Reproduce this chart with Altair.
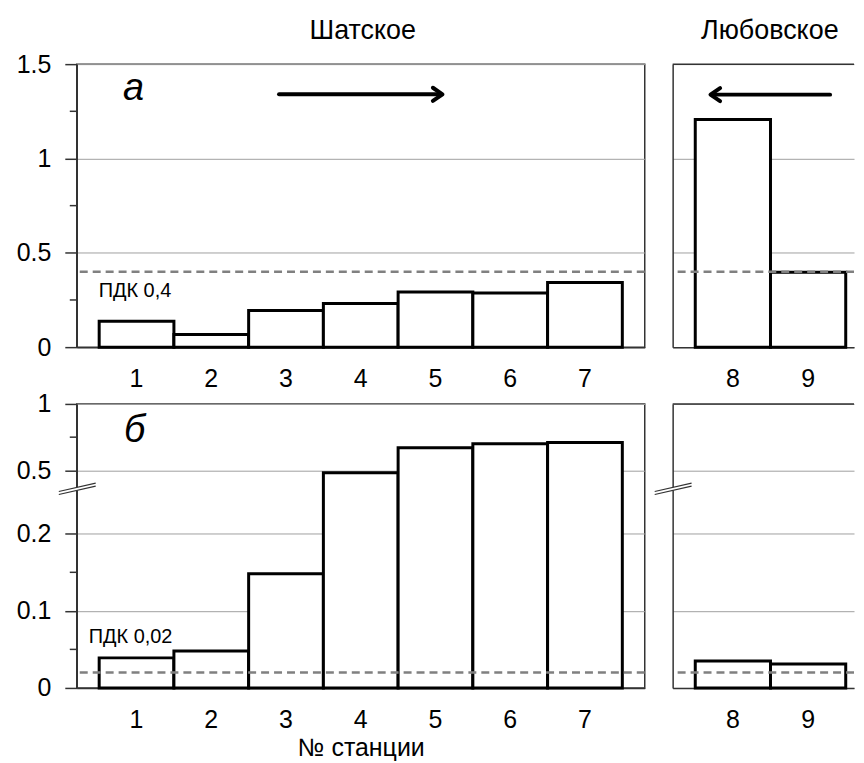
import altair as alt
import pandas as pd

# ---- data ----
stations_sh = ["1", "2", "3", "4", "5", "6", "7"]
stations_lb = ["8", "9"]
top_sh = [0.137, 0.067, 0.194, 0.231, 0.292, 0.287, 0.343]
top_lb = [1.207, 0.397]
bot_sh = [0.039, 0.048, 0.148, 0.489, 0.670, 0.700, 0.710]
bot_lb = [0.035, 0.031]
pdk_top = 0.4
pdk_bot = 0.02
top_ticks = [0, 0.5, 1, 1.5]
top_minor = [0.25, 0.75, 1.25]
bot_ticks = [0, 0.1, 0.2, 0.5, 1]
bot_minor = [0.05, 0.15, 0.75]
bot_domain = [0, 0.2, 0.5, 1]

FONT = "Liberation Sans"
DARK = "#333333"

W_L, W_R = 570, 182
H_T, H_B = 284, 285

top_scale = alt.Scale(domain=[0, 1.5], nice=False)
bot_scale = alt.Scale(domain=bot_domain, range=[H_B, 130.3, 66.7, 0], nice=False)
x_scale_l = alt.Scale(paddingInner=0, paddingOuter=0.3)
x_scale_r = alt.Scale(paddingInner=0, paddingOuter=0.2053, align=0.732)

one = pd.DataFrame({"k": [0]})


def panel(stations, values, yscale, xscale, ticks, minor, pdk, width, height, left,
          xtitle=None, pdk_label=None, pdk_pos=None, letter=None, letter_pos=None,
          arrow=None, brk=None, title=None, title_x=None):
    df = pd.DataFrame({"st": stations, "v": values})
    xenc = alt.X("st:N", sort=stations, scale=xscale,
                 axis=alt.Axis(title=xtitle, ticks=False, labelAngle=0, labelPadding=20,
                               titlePadding=3, titleFontSize=25, titleFont=FONT,
                               titleFontWeight="normal", titleColor="black"))
    yaxis = alt.Axis(values=ticks, format="~g", title=None, grid=True,
                     ticks=left, labels=left, tickSize=12, labelPadding=14)
    bars = alt.Chart(df).mark_bar(fill="white", stroke="black", strokeWidth=3).encode(
        x=xenc, y=alt.Y("v:Q", scale=yscale, axis=yaxis))
    layers = [bars]
    layers.append(alt.Chart(one).mark_rule(color="#808080", strokeWidth=2.5,
                                           strokeDash=[8, 5]).encode(
        y=alt.datum(pdk)))
    if not left:
        # top border of the panel (its right edge lies beyond the picture)
        layers.append(alt.Chart(one).mark_rule(color=DARK, strokeWidth=1.5).encode(
            x=alt.value(0), x2=alt.value(width), y=alt.value(0)))
    if pdk_label:
        layers.append(alt.Chart(one).mark_text(text=pdk_label, font=FONT, fontSize=20,
                                               align="left", baseline="alphabetic",
                                               color="black").encode(
            x=alt.value(pdk_pos[0]), y=alt.value(pdk_pos[1])))
    if letter:
        layers.append(alt.Chart(one).mark_text(text=letter, font=FONT, fontSize=38,
                                               fontStyle="italic", align="center",
                                               baseline="alphabetic", color="black").encode(
            x=alt.value(letter_pos[0]), y=alt.value(letter_pos[1])))
    if title:
        layers.append(alt.Chart(one).mark_text(text=title, font=FONT, fontSize=27,
                                               align="center", baseline="alphabetic",
                                               color="black").encode(
            x=alt.value(title_x), y=alt.value(-25)))
    if arrow:
        x1, x2, ya, direction = arrow
        layers.append(alt.Chart(one).mark_rule(color="black", strokeWidth=4,
                                               strokeCap="round").encode(
            x=alt.value(x1), x2=alt.value(x2), y=alt.value(ya)))
        if direction == "right":
            shape = "M-1.6,-1.1L0,0L-1.6,1.1"
            tip = x2 + 2
        else:
            shape = "M1.6,-1.1L0,0L1.6,1.1"
            tip = x1 - 2
        layers.append(alt.Chart(one).mark_point(shape=shape, size=144, filled=False,
                                                stroke="black", strokeWidth=4,
                                                strokeCap="round", strokeJoin="round",
                                                opacity=1).encode(
            x=alt.value(tip), y=alt.value(ya)))
    if left:
        mdf = pd.DataFrame({"v": minor})
        layers.append(alt.Chart(mdf).mark_rule(color=DARK, strokeWidth=1.5).encode(
            y=alt.Y("v:Q", scale=yscale, axis=yaxis), x=alt.value(-7), x2=alt.value(0)))
    if brk is not None:
        cy = brk
        layers.append(alt.Chart(one).mark_rule(color="white", strokeWidth=3).encode(
            x=alt.value(-18), x2=alt.value(19), y=alt.value(cy + 4.2), y2=alt.value(cy - 4.2)))
        for off in (-1.5, 1.5):
            layers.append(alt.Chart(one).mark_rule(color=DARK, strokeWidth=1.2).encode(
                x=alt.value(-18), x2=alt.value(19),
                y=alt.value(cy + off + 4.2), y2=alt.value(cy + off - 4.2)))
    ch = alt.layer(*layers).properties(width=width, height=height)
    if not left:
        ch = ch.properties(view=alt.ViewBackground(strokeWidth=0))
    return ch


tl = panel(stations_sh, top_sh, top_scale, x_scale_l, top_ticks, top_minor, pdk_top,
           W_L, H_T, True, pdk_label="ПДК 0,4", pdk_pos=(22, 233.5), letter="а",
           letter_pos=(57, 35.5), arrow=(203, 365, 30.3, "right"),
           title="Шатское", title_x=287)
tr = panel(stations_lb, top_lb, top_scale, x_scale_r, top_ticks, top_minor, pdk_top,
           W_R, H_T, False, arrow=(40, 158, 30.6, "left"),
           title="Любовское", title_x=97.5)
bl = panel(stations_sh, bot_sh, bot_scale, x_scale_l, bot_ticks, bot_minor, pdk_bot,
           W_L, H_B, True, xtitle="№ станции", pdk_label="ПДК 0,02",
           pdk_pos=(12, 239.7), letter="б", letter_pos=(58, 38.4), brk=85.2)
br = panel(stations_lb, bot_lb, bot_scale, x_scale_r, bot_ticks, bot_minor, pdk_bot,
           W_R, H_B, False, brk=85.2)

chart = alt.concat(tl, tr, bl, br, columns=2, spacing={"row": 57, "column": 28},
                   bounds="flush").properties(
    padding={"left": 7, "top": 7, "right": 0, "bottom": 0}
).configure_view(stroke=DARK, strokeWidth=1.5).configure_axis(
    labelFont=FONT, labelFontSize=25, labelColor="black",
    domainColor=DARK, domainWidth=1.5, tickColor=DARK, tickWidth=1.5,
    gridColor="#a0a0a0", gridWidth=1
)

chart.save("out.html", embed_options={"renderer": "svg", "actions": False})
